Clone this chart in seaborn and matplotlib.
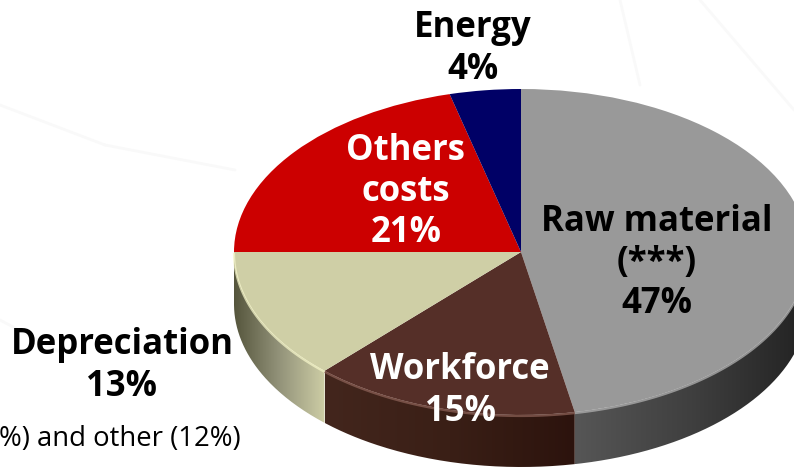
import numpy as np
import matplotlib
matplotlib.use("Agg")
import matplotlib.pyplot as plt
from matplotlib.path import Path
from matplotlib.patches import PathPatch
import seaborn as sns

# cost shares
categories = ["Raw material", "Workforce", "Depreciation", "Others costs", "Energy"]
shares = [47, 15, 13, 21, 4]
top_colors = ["#999999", "#552f28", "#cfcfa6", "#cc0000", "#000066"]

# side shading of the three front slices, left to right
side_colors = {
    0: ["#565656", "#3f3f3f", "#222222"],
    1: ["#43261d", "#3a1f16", "#2c130d"],
    2: ["#55553c", "#93937a", "#cdcda5"],
}
rim_colors = {0: "#b0b0b0", 1: "#8a5f55", 2: "#f4f4c8"}

# layout in pixels
W, H = 794, 467
CX, CY, RX, RY, DEPTH = 521, 252, 287, 163, 52

sns.set_theme(style="white")
plt.rcParams["font.family"] = ["Open Sans", "DejaVu Sans"]

fig = plt.figure(figsize=(W / 100, H / 100), dpi=100)
ax = fig.add_axes([0, 0, 1, 1])

# faint background pattern
for x0, y0, x1, y1 in [(0, 105, 105, 145), (105, 145, 235, 170), (0, 320, 60, 352),
                       (700, 0, 794, 110), (620, 0, 640, 85)]:
    ax.plot([(x0 - CX) / RX, (x1 - CX) / RX], [(CY - y0) / RY, (CY - y1) / RY],
            color="#f9f9f9", lw=2, zorder=0)

wedges, _ = ax.pie(shares, colors=top_colors, startangle=90, counterclock=False,
                   radius=1, center=(0, 0), wedgeprops={"linewidth": 0})
for w in wedges:
    w.set_zorder(5)

x_lim = (-CX / RX, (W - CX) / RX)
y_lim = ((CY - H) / RY, CY / RY)
d = DEPTH / RY

# extruded side of the slices facing the viewer
for i, colors in side_colors.items():
    a0, a1 = wedges[i].theta1, wedges[i].theta2
    a0 = a0 + 360 if a0 < 0 else a0
    a1 = a1 + 360 if a1 < 0 else 360
    t = np.radians(np.linspace(a0, a1, 120))
    xs = np.concatenate([np.cos(t), np.cos(t[::-1])])
    ys = np.concatenate([np.sin(t), np.sin(t[::-1]) - d])
    clip = PathPatch(Path(np.column_stack([xs, ys])), transform=ax.transData,
                     facecolor="none", edgecolor="none")
    ax.add_patch(clip)
    grad = np.array(sns.blend_palette(colors, n_colors=256))[None, :, :]
    im = ax.imshow(grad, extent=(xs.min(), xs.max(), ys.min(), ys.max()),
                   aspect="auto", zorder=3, interpolation="bilinear")
    im.set_clip_path(clip)
    ax.plot(np.cos(t), np.sin(t) - 0.006, color=rim_colors[i], lw=1.6, alpha=0.75,
            zorder=6, solid_capstyle="butt")

ax.set_aspect("auto")
ax.set_xlim(x_lim)
ax.set_ylim(y_lim)
ax.axis("off")

label_text = ["Raw material\n(***)\n47%", "Workforce\n15%", "Depreciation\n13%",
              "Others\ncosts\n21%", "Energy\n4%"]
label_pos = [(657, 263), (460, 391), (122, 366), (406, 192), (473, 49)]
label_color = ["black", "white", "black", "white", "black"]
for s, (px, py), c in zip(label_text, label_pos, label_color):
    fig.text(px / W, 1 - py / H, s, color=c, fontsize=25, fontweight="bold",
             ha="center", va="center", linespacing=1.2, zorder=10)

fig.text(241 / W, 1 - 439 / H, "%) and other (12%)", fontsize=19.8, color="black",
         ha="right", va="center")

fig.savefig("out.png", dpi=100)
